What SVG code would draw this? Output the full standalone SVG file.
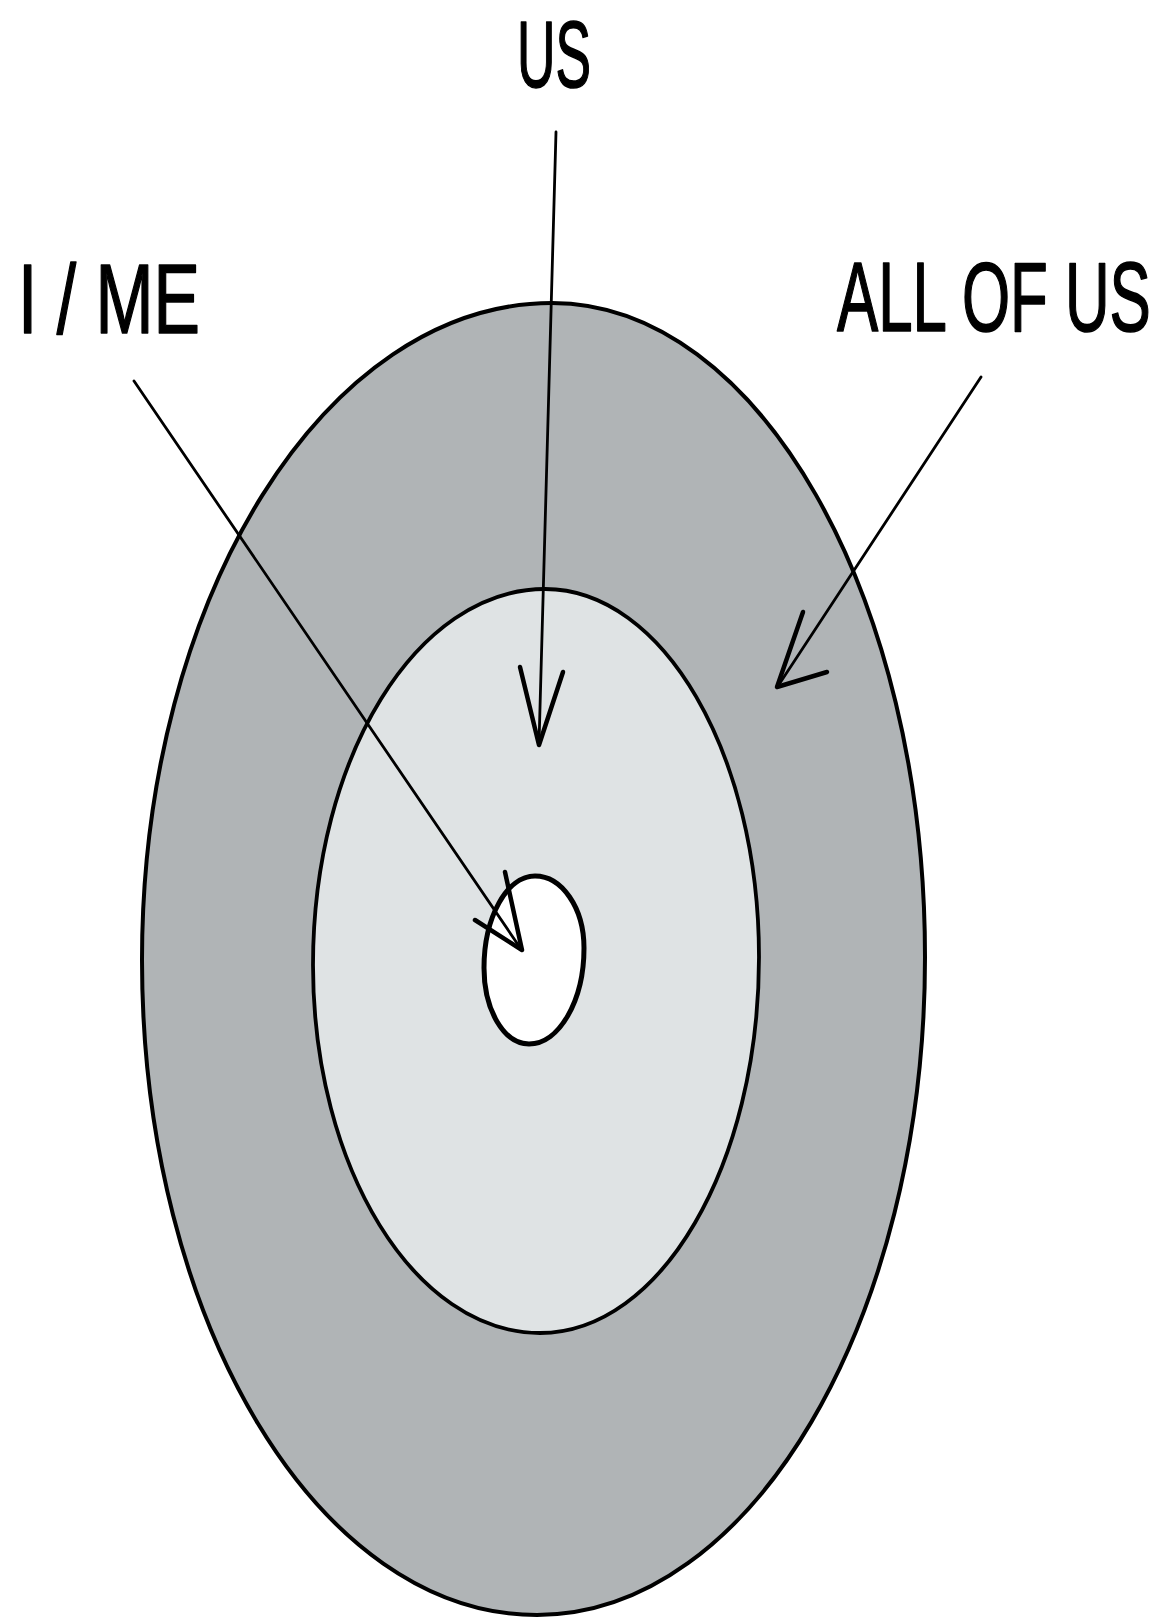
<svg xmlns="http://www.w3.org/2000/svg" width="1170" height="1621" viewBox="0 0 1170 1621">
<style>
.ring{stroke:#000;stroke-linejoin:round}
.lbl{font-family:"Liberation Sans",Arial,sans-serif;font-size:98px;fill:#000;stroke:#000;stroke-width:1.6;stroke-linejoin:round}
.shaft{fill:none;stroke:#000;stroke-width:2.8;stroke-linecap:round}
.head{fill:none;stroke:#000;stroke-width:4.5;stroke-linecap:round;stroke-linejoin:round}
</style>
<rect width="1170" height="1621" fill="#fff"/>
<g id="all-of-us-ring">
<path class="ring" fill="#b0b4b6" stroke-width="4" d="M552,303 C758,303 925,596 925,957 C925,1320 751,1615 537,1615 C319,1615 142,1322 142,960 C142,597 326,303 552,303 Z"/>
</g>
<g id="us-ring">
<path class="ring" fill="#dfe3e4" stroke-width="3.8" d="M545,589 C663,589 759,754 759,957 C759,1165 661,1333 540,1333 C415,1333 313,1168 313,965 C313,757 417,589 545,589 Z"/>
</g>
<g id="me-ring">
<path class="ring" fill="#fff" stroke-width="5" d="M535,876 C562,876 584,908 584,948 C584,1001 559,1044 529,1044 C504,1044 484,1010 484,968 C484,917 507,876 535,876 Z"/>
</g>
<g id="labels">
<text class="lbl" style="font-size:94px" transform="translate(517,87) scale(0.567,1)">US</text>
<text class="lbl" transform="translate(18,333) scale(0.711,1)">I / ME</text>
<text class="lbl" transform="translate(837,331) scale(0.631,1)">ALL OF US</text>
</g>
<g id="connectors">
<path class="shaft" d="M556,132 L539,744"/>
<path class="head" d="M520,667 L539,745 L563,672"/>
<path class="shaft" d="M134,381 L521,949"/>
<path class="head" d="M505,872 L522,950 L475,920"/>
<path class="shaft" d="M981,377 L778,686"/>
<path class="head" d="M803,612 L777,687 L827,672"/>
</g>
</svg>
